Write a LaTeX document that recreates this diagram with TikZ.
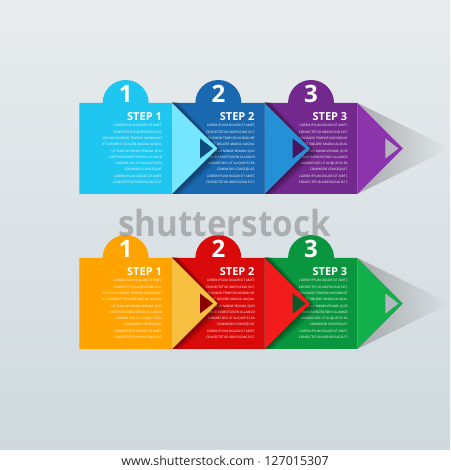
\documentclass[tikz,border=0pt]{standalone}
\usepackage{fontspec}
\setmainfont{Open Sans}
\usetikzlibrary{fadings}

\definecolor{bgtop}{HTML}{E8ECEE}
\definecolor{bgmid}{HTML}{F7F8F9}
\definecolor{bgbot}{HTML}{CFD9DE}
\definecolor{cyanmain}{HTML}{1EC6F0}
\definecolor{cyantip}{HTML}{74E6FF}
\definecolor{bluemain}{HTML}{1A69B0}
\definecolor{bluetip}{HTML}{2390D8}
\definecolor{bluehole}{HTML}{0C4A80}
\definecolor{purplemain}{HTML}{72288C}
\definecolor{purpletip}{HTML}{8C34AC}
\definecolor{purplehole}{HTML}{4A1560}
\definecolor{orangemain}{HTML}{FFA300}
\definecolor{orangetip}{HTML}{F8C040}
\definecolor{redmain}{HTML}{D80A0A}
\definecolor{redtip}{HTML}{F21C1C}
\definecolor{redhole}{HTML}{8A0000}
\definecolor{greenmain}{HTML}{0A963E}
\definecolor{greentip}{HTML}{12B04A}
\definecolor{greenhole}{HTML}{07592A}
\definecolor{greyhole}{HTML}{B6B7BE}

\tikzfading[name=fadeout right, left color=transparent!35, right color=transparent!100]

\tikzset{
  stepnum/.style={text=white, font=\bfseries\fontsize{24}{24}\selectfont, inner sep=0pt},
  steplabel/.style={text=white, font=\bfseries\fontsize{11}{11}\selectfont, anchor=base east, inner sep=0pt},
  blurb/.style={text=white, font=\fontsize{3.2}{6.3}\selectfont, align=right, anchor=north east, inner sep=0pt},
}

\newcommand\stepblurb{LOREM IPSUM DOLOR SIT AMET,\\CONSECTETUR ADIPISICING ELIT,\\SED DO EIUSMOD TEMPOR INCIDIDUNT\\UT LABORE ET DOLORE MAGNA ALIQUA.\\UT ENIM AD MINIM VENIAM, QUIS\\NOSTRUD EXERCITATION ULLAMCO\\LABORIS NISI UT ALIQUIP EX EA\\COMMODO CONSEQUAT.\\LOREM IPSUM DOLOR SIT AMET,\\CONSECTETUR ADIPISICING ELIT.}

\begin{document}
\begin{tikzpicture}[x=1pt,y=1pt]
  % background and footer
  \fill[top color=bgtop, middle color=bgmid, bottom color=bgbot] (0,20) rectangle (450,470);
  \fill[white] (0,0) rectangle (450,20);
  \node[text=black!85, font=\fontsize{12.5}{12.5}\selectfont, anchor=base] (footer) at (225,5) {www.shutterstock.com $\cdot$ 127015307};

  % top row
  \begin{scope}[yshift=276pt]
    \foreach \i/\main/\tip/\hole in {3/purplemain/purpletip/greyhole, 2/bluemain/bluetip/purplehole, 1/cyanmain/cyantip/bluehole}{
      \pgfmathsetmacro\xl{79.3+(\i-1)*92.7}
      \pgfmathsetmacro\xr{\xl+92.7}
      \pgfmathsetmacro\xc{\xl+46.35}
      \fill[\main] (\xl,0) -- (\xl,91) -- (\xc-23,91) arc[start angle=180, end angle=0, radius=23] -- (\xr,91) -- (\xr,0) -- cycle;
      \node[stepnum] (t-num\i) at (\xc,100) {\i};
      \node[steplabel] (t-step\i) at (\xr-10,73.5) {STEP \i};
      \node[blurb] (t-blurb\i) at (\xr-9.5,69.7) {\stepblurb};
      % shadow of the tip
      \ifnum\i=3
        \fill[black!45, path fading=fadeout right] (\xr,91) -- (\xr+90,47) -- (\xr+90,44) -- (\xr,0) -- cycle;
      \else
        \begin{scope}
          \clip (\xr,0) rectangle (\xr+92.7,91);
          \foreach \k in {1,...,8}
            \fill[black, opacity=0.06] (\xr,91+\k) -- (\xr+45.5+\k,45.5-0.7*\k) -- (\xr,-\k) -- cycle;
        \end{scope}
      \fi
      \fill[\tip] (\xr,91) -- (\xr+45.5,45.5) -- (\xr,0) -- cycle;
      \fill[\hole] (\xr+28,35.5) -- (\xr+41,45.5) -- (\xr+28,55.5) -- cycle;
    }
  \end{scope}

  % bottom row
  \begin{scope}[yshift=121pt]
    \foreach \i/\main/\tip/\hole in {3/greenmain/greentip/greyhole, 2/redmain/redtip/greenhole, 1/orangemain/orangetip/redhole}{
      \pgfmathsetmacro\xl{79.3+(\i-1)*92.7}
      \pgfmathsetmacro\xr{\xl+92.7}
      \pgfmathsetmacro\xc{\xl+46.35}
      \fill[\main] (\xl,0) -- (\xl,91) -- (\xc-23,91) arc[start angle=180, end angle=0, radius=23] -- (\xr,91) -- (\xr,0) -- cycle;
      \node[stepnum] (b-num\i) at (\xc,100) {\i};
      \node[steplabel] (b-step\i) at (\xr-10,73.5) {STEP \i};
      \node[blurb] (b-blurb\i) at (\xr-9.5,69.7) {\stepblurb};
      % shadow of the tip
      \ifnum\i=3
        \fill[black!45, path fading=fadeout right] (\xr,91) -- (\xr+90,47) -- (\xr+90,44) -- (\xr,0) -- cycle;
      \else
        \begin{scope}
          \clip (\xr,0) rectangle (\xr+92.7,91);
          \foreach \k in {1,...,8}
            \fill[black, opacity=0.06] (\xr,91+\k) -- (\xr+45.5+\k,45.5-0.7*\k) -- (\xr,-\k) -- cycle;
        \end{scope}
      \fi
      \fill[\tip] (\xr,91) -- (\xr+45.5,45.5) -- (\xr,0) -- cycle;
      \fill[\hole] (\xr+28,35.5) -- (\xr+41,45.5) -- (\xr+28,55.5) -- cycle;
    }
  \end{scope}

  % watermark, on top of everything
  \node[text=black!45, opacity=0.6, font=\bfseries\fontsize{36}{36}\selectfont, anchor=base, xscale=0.92] (mark) at (224.5,233) {shutterstock};
\end{tikzpicture}
\end{document}
